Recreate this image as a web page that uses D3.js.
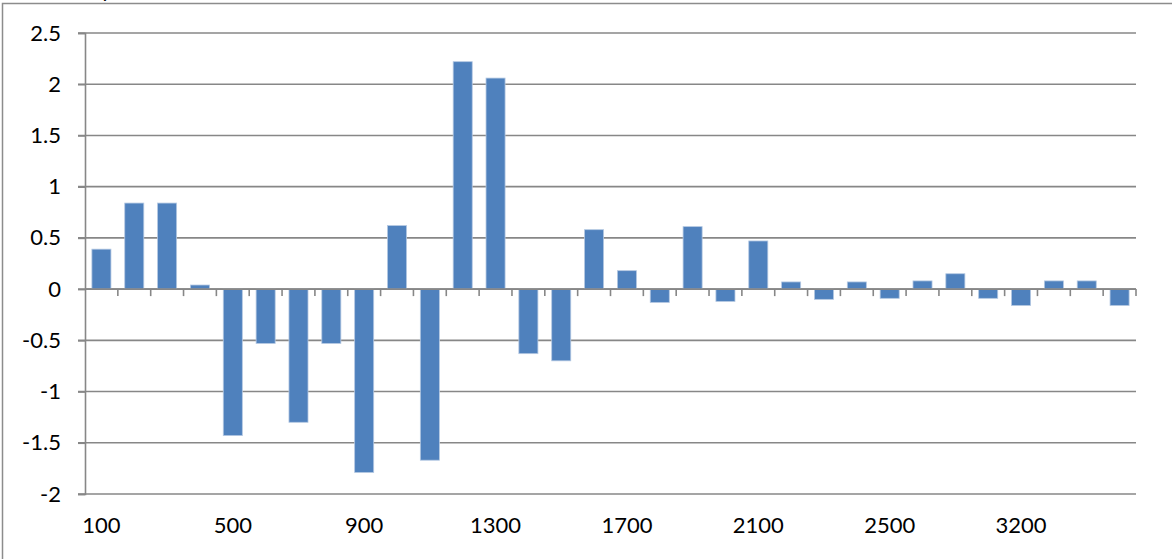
<!DOCTYPE html>
<html>
<head>
<meta charset="utf-8">
<script src="https://cdn.jsdelivr.net/npm/d3@7"></script>
<style>
  html, body { margin: 0; padding: 0; background: #fff; }
  svg { display: block; }
  text { font-family: Lato, "Open Sans", sans-serif; fill: #000; }
</style>
</head>
<body>
<svg id="chart" width="1172" height="559"></svg>
<script>
const categories = ["100","200","300","400","500","600","700","800","900","1000","1100","1200","1300","1400","1500","1600","1700","1800","1900","2000","2100","2200","2300","2400","2500","2600","2800","3000","3200","3400","3600","3800"];
const values = [0.39,0.84,0.84,0.04,-1.43,-0.53,-1.30,-0.53,-1.79,0.62,-1.67,2.22,2.06,-0.63,-0.70,0.58,0.18,-0.13,0.61,-0.12,0.47,0.07,-0.10,0.07,-0.09,0.08,0.15,-0.09,-0.16,0.08,0.08,-0.16];
const xTickLabels = ["100","500","900","1300","1700","2100","2500","3200"];
const yTicks = [-2,-1.5,-1,-0.5,0,0.5,1,1.5,2,2.5];

(function () {
const svg = d3.select("#chart");
const plotLeft = 85, plotRight = 1136, plotTop = 33, plotBottom = 494;
const gridColor = "#878787";
const fontSize = 22;

// outer frame (cropped chart area)
svg.append("path")
  .attr("d", "M2.5,560 V3.5 H1172")
  .attr("fill", "none").attr("stroke", "#8c8c8c").attr("stroke-width", 1.5);

// partially visible title glyph at the top edge
svg.append("text").attr("x", 101).attr("y", -3).attr("font-size", fontSize).text("y");

const x = d3.scaleBand().domain(categories).range([plotLeft, plotRight]).paddingInner(0.42).paddingOuter(0.21);
const y = d3.scaleLinear().domain([-2, 2.5]).range([plotBottom, plotTop]);

// gridlines
svg.append("g").selectAll("line").data(yTicks).join("line")
  .attr("x1", plotLeft - 7).attr("x2", plotRight)
  .attr("y1", d => y(d)).attr("y2", d => y(d))
  .attr("stroke", gridColor).attr("stroke-width", 1.6);

// y axis
const yAxis = svg.append("g").attr("transform", `translate(${plotLeft},0)`)
  .call(d3.axisLeft(y).tickValues(yTicks).tickSize(7).tickPadding(17).tickFormat(d => String(d)));
yAxis.select(".domain").attr("stroke", gridColor).attr("stroke-width", 1.6);
yAxis.selectAll(".tick line").attr("stroke", gridColor).attr("stroke-width", 1.6);
yAxis.selectAll("text").attr("font-size", fontSize).attr("font-family", "Lato, sans-serif").attr("fill", "#000");

// bars
svg.append("g").selectAll("rect").data(values).join("rect")
  .attr("x", (d, i) => x(categories[i]))
  .attr("width", x.bandwidth())
  .attr("y", d => y(Math.max(0, d)))
  .attr("height", d => Math.abs(y(d) - y(0)))
  .attr("fill", "#4F81BD")
  .attr("stroke", "#B4C8E2").attr("stroke-width", 0.8);

// x axis line at zero with boundary ticks
const zeroY = y(0);
svg.append("line").attr("x1", plotLeft).attr("x2", plotRight).attr("y1", zeroY).attr("y2", zeroY)
  .attr("stroke", gridColor).attr("stroke-width", 1.8);
const boundaries = categories.map(c => x(c) - x.step() * x.paddingInner() / 2).slice(1).concat([plotRight]);
svg.append("g").selectAll("line").data(boundaries).join("line")
  .attr("x1", d => d).attr("x2", d => d)
  .attr("y1", zeroY).attr("y2", zeroY + 7)
  .attr("stroke", gridColor).attr("stroke-width", 1.6);

// x labels
const xAxis = svg.append("g").attr("transform", `translate(0,${plotBottom + 17})`)
  .call(d3.axisBottom(x).tickValues(xTickLabels).tickSize(0).tickPadding(6));
xAxis.select(".domain").remove();
xAxis.selectAll("text").attr("font-size", fontSize).attr("font-family", "Lato, sans-serif").attr("fill", "#000");
})();
</script>
</body>
</html>
